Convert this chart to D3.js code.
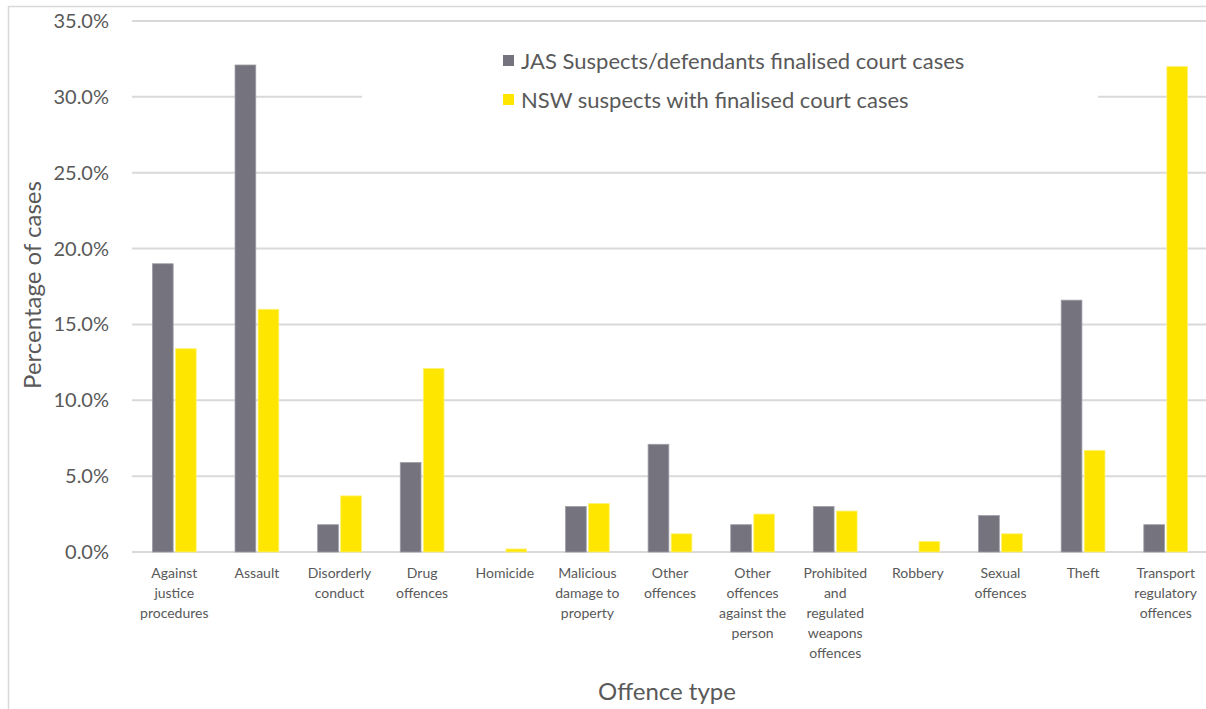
<!DOCTYPE html>
<html lang="en">
<head>
<meta charset="UTF-8">
<title>Offence type - JAS vs NSW</title>
<script src="https://d3js.org/d3.v7.min.js"></script>
<style>
  body { margin: 0; background: #fff; }
  text { font-family: Lato, "Open Sans", sans-serif; fill: #595959; }
</style>
</head>
<body>
<div id="chart"></div>
<script>
// DATA //
var categories = [
  "Against\njustice\nprocedures", "Assault", "Disorderly\nconduct", "Drug\noffences",
  "Homicide", "Malicious\ndamage to\nproperty", "Other\noffences",
  "Other\noffences\nagainst the\nperson", "Prohibited\nand\nregulated\nweapons\noffences",
  "Robbery", "Sexual\noffences", "Theft", "Transport\nregulatory\noffences"
];
var seriesNames = ["JAS Suspects/defendants finalised court cases", "NSW suspects with finalised court cases"];
var jasValues = [19.0, 32.1, 1.8, 5.9, 0.0, 3.0, 7.1, 1.8, 3.0, 0.0, 2.4, 16.6, 1.8];
var nswValues = [13.4, 16.0, 3.7, 12.1, 0.2, 3.2, 1.2, 2.5, 2.7, 0.7, 1.2, 6.7, 32.0];
var yTicks = [0, 5, 10, 15, 20, 25, 30, 35];
var colors = ["#74737e", "#ffe600"];

// DIMENSIONS //
var W = 1206, H = 709;
var plotLeft = 133, plotRight = 1207, plotTop = 21, plotBottom = 552;

var svg = d3.select("#chart").append("svg")
  .attr("width", W).attr("height", H);

// outer frame
svg.append("rect")
  .attr("x", 8.5).attr("y", 6.5).attr("width", W + 10).attr("height", H + 10)
  .attr("fill", "none").attr("stroke", "#d9d9d9").attr("stroke-width", 1.5);

var data = categories.map(function(c, i) {
  return { cat: c, vals: [jasValues[i], nswValues[i]] };
});

var x0 = d3.scaleBand().domain(categories).range([plotLeft, plotRight])
  .paddingInner(0.47).paddingOuter(0.235);
var x1 = d3.scaleBand().domain([0, 1]).range([0, x0.bandwidth()]).paddingInner(0.1);
var y = d3.scaleLinear().domain([0, 35]).range([plotBottom, plotTop]);

// gridlines
svg.append("g").selectAll("line").data(yTicks).enter().append("line")
  .attr("x1", 132).attr("x2", W)
  .attr("y1", function(d) { return y(d); }).attr("y2", function(d) { return y(d); })
  .attr("stroke", "#d9d9d9").attr("stroke-width", 2);

// y tick labels
svg.append("g").selectAll("text").data(yTicks).enter().append("text")
  .attr("x", 109).attr("y", function(d) { return y(d); })
  .attr("dy", "0.35em").attr("text-anchor", "end")
  .style("font-size", "20px")
  .text(function(d) { return d.toFixed(1) + "%"; });

// bars
var groups = svg.append("g").selectAll("g").data(data).enter().append("g")
  .attr("transform", function(d) { return "translate(" + x0(d.cat) + ",0)"; });
groups.selectAll("rect").data(function(d) { return d.vals; }).enter().append("rect")
  .attr("x", function(d, i) { return x1(i); })
  .attr("width", x1.bandwidth())
  .attr("y", function(d) { return y(d); })
  .attr("height", function(d) { return plotBottom - y(d); })
  .attr("fill", function(d, i) { return colors[i]; })
  .attr("stroke", function(d, i) { return i === 0 ? "#a09fa8" : "#fff27a"; })
  .attr("stroke-width", function(d) { return d > 0 ? 0.8 : 0; });

// category labels
var catLabels = svg.append("g").selectAll("text").data(categories).enter().append("text")
  .attr("text-anchor", "middle")
  .attr("x", function(d) { return x0(d) + x0.bandwidth() / 2; })
  .attr("y", 578)
  .style("font-size", "14px");
catLabels.each(function(d) {
  var t = d3.select(this);
  d.split("\n").forEach(function(line, i) {
    t.append("tspan").attr("x", t.attr("x")).attr("dy", i === 0 ? 0 : 20).text(line);
  });
});

// legend (white box hides gridline)
svg.append("rect").attr("x", 362).attr("y", 78).attr("width", 736).attr("height", 40).attr("fill", "#fff");
var legend = svg.append("g").selectAll("g").data(seriesNames).enter().append("g")
  .attr("transform", function(d, i) { return "translate(503," + (55 + i * 39) + ")"; });
legend.append("rect").attr("width", 11).attr("height", 11)
  .attr("fill", function(d, i) { return colors[i]; });
legend.append("text").attr("x", 18).attr("y", 6).attr("dy", "0.35em")
  .style("font-size", "22px").text(function(d) { return d; });

// axis titles
svg.append("text")
  .attr("transform", "translate(33,285) rotate(-90)")
  .attr("text-anchor", "middle").attr("dy", "0.35em")
  .style("font-size", "24px").text("Percentage of cases");
svg.append("text")
  .attr("x", 667).attr("y", 692).attr("text-anchor", "middle").attr("dy", "0.35em")
  .style("font-size", "24px").text("Offence type");
</script>
</body>
</html>
